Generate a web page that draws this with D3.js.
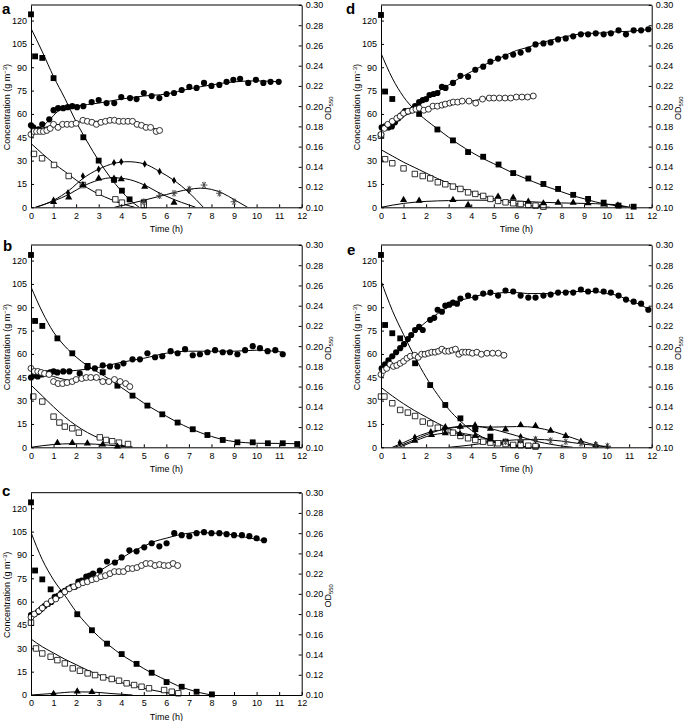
<!DOCTYPE html>
<html><head><meta charset="utf-8">
<script src="https://cdn.jsdelivr.net/npm/d3@7"></script>
<style>body{margin:0;background:#fff}text{font-family:"Liberation Sans",Arial,sans-serif}</style>
</head><body><svg id="chart" width="685" height="721"></svg>
<script>
// ---------- tick labels ----------
const timeTicks = [0,1,2,3,4,5,6,7,8,9,10,11,12];
const concTicks = [0,15,30,45,60,75,90,105,120];
const odTicks = [0.10,0.12,0.14,0.16,0.18,0.20,0.22,0.24,0.26,0.28,0.30];
const panelLetters = ["a","b","c","d","e"];

// ---------- panel a ----------
const a_sqF = [[0,124],[0.18,97],[0.5,96],[1.0,83],[2.32,45],[3.0,30],[3.68,17.6],[4.03,10.7],[4.37,5.1],[5.0,3.2]];
const a_sqFFit = [[0,115],[0.5,100],[1,84],[1.5,70],[2,55],[2.5,42],[3,30],[3.5,19.5],[4,10.5],[4.4,4.5],[4.8,0]];
const a_sqO = [[0.13,34.3],[0.49,31.5],[1.02,27.2],[1.67,20.1],[2.3,14.3],[3.0,9.4],[3.74,5.1],[4.03,3],[5.0,1.5]];
const a_sqOFit = [[0,41],[0.5,34.5],[1,28.3],[1.5,23],[2,17.5],[2.5,12.5],[3,8.5],[3.5,5.3],[4,2.5],[4.6,0]];
const a_tri = [[1.0,3.5],[1.67,6.4],[2.3,14.3],[3.0,18.6],[3.68,18.5],[4.0,18],[5.04,13.3],[6.34,3]];
const a_triFit = [[0.2,0],[1,4],[1.7,8.5],[2.3,13.5],[3,17.5],[3.6,19],[4.2,18.3],[5,14.5],[5.72,9],[6.34,5],[7,1.5],[7.3,0]];
const a_dia = [[1.0,4.5],[1.64,9.4],[2.3,20.1],[3.0,24.4],[3.68,28.7],[4.0,29.3],[5.04,27.8],[5.7,23],[6.34,17.3],[7.0,11]];
const a_diaFit = [[0.2,0],[1,4.5],[1.7,11],[2.3,18.5],[3,24.5],[3.7,28.3],[4.3,29.3],[5,28],[5.7,23],[6.34,17.3],[7,9.5],[7.64,0]];
const a_star = [[5.0,3.6],[5.7,7.5],[6.34,9.0],[7.02,11.6],[7.67,14.3],[8.35,9.0],[9.0,3.6]];
const a_starFit = [[3.7,0],[5,4.5],[6,8.2],[7,11.5],[7.5,12.3],[8,11.5],[8.5,9],[9,5],[9.6,0]];
const a_odF = [[0,0.181],[0.1,0.179],[0.33,0.177],[0.5,0.182],[0.81,0.187],[1.0,0.196],[1.2,0.198],[1.43,0.198],[1.63,0.199],[1.83,0.200],[2.04,0.199],[2.32,0.200],[2.69,0.204],[3.0,0.206],[3.35,0.203],[3.69,0.203],[4.0,0.209],[4.39,0.208],[4.68,0.207],[5.0,0.213],[5.35,0.210],[5.69,0.208],[6.01,0.212],[6.34,0.213],[6.68,0.216],[7.02,0.219],[7.34,0.218],[7.67,0.223],[8.0,0.220],[8.35,0.221],[8.67,0.224],[8.97,0.226],[9.27,0.227],[9.63,0.223],[9.97,0.226],[10.3,0.223],[10.62,0.224],[10.98,0.224]];
const a_odFFit = [[0,0.180],[0.3,0.178],[0.8,0.186],[1.2,0.195],[1.6,0.198],[2,0.200],[3,0.203],[4,0.207],[5,0.210],[6,0.212],[7,0.217],[8,0.221],[9,0.224],[10,0.225],[11,0.224]];
const a_odO = [[0,0.172],[0.12,0.175],[0.25,0.175],[0.4,0.175],[0.55,0.175],[0.7,0.176],[0.85,0.178],[1.0,0.182],[1.2,0.179],[1.4,0.182],[1.6,0.182],[1.8,0.182],[2.0,0.183],[2.3,0.186],[2.5,0.185],[2.7,0.184],[2.9,0.182],[3.1,0.184],[3.3,0.185],[3.5,0.186],[3.7,0.186],[3.9,0.185],[4.1,0.185],[4.3,0.185],[4.5,0.185],[4.7,0.182],[4.9,0.181],[5.1,0.179],[5.3,0.179],[5.55,0.175],[5.7,0.176]];
const a_odOFit = [[0,0.175],[1,0.181],[2,0.184],[2.5,0.185],[3.5,0.185],[4.5,0.184],[5.3,0.179],[5.7,0.176]];

// ---------- panel b ----------
const b_sqF = [[0,123.6],[0.18,81.2],[0.5,78],[1.17,70],[1.83,60.4],[2.51,52.3],[3.18,48.2],[3.83,39.6],[4.5,33.2],[5.16,26.8],[5.82,21.2],[6.5,15.9],[7.17,11.6],[7.82,7.9],[8.5,4.7],[9.15,3.2],[9.83,3.2],[10.5,2.6],[11.16,2.6],[11.8,2.1]];
const b_sqFFit = [[0,103],[0.5,87],[1,74],[1.5,65],[2,58],[2.5,52.5],[3,48],[3.5,43.5],[4,38.5],[4.5,33.5],[5,28.5],[5.5,24],[6,20],[6.5,16],[7,12.5],[7.5,9.5],[8,7],[8.5,5],[9,3.7],[9.5,3],[10,2.6],[11,2.5],[11.8,2.3]];
const b_sqO = [[0.1,32.6],[0.5,29.4],[1.0,19.7],[1.26,15.9],[1.5,13.3],[1.83,12.2],[2.12,9.4],[3.05,6.4],[3.33,4.7],[3.6,3.9],[3.9,3.0],[4.3,2.1]];
const b_sqOFit = [[0,40],[0.5,33],[1,26],[1.5,19.5],[2,14],[2.5,9.5],[3,6],[3.5,3.3],[4,1.3],[4.5,0.2]];
const b_tri = [[1.17,2.8],[1.83,2.8],[2.5,2.5],[3.18,1.8],[3.83,0.5]];
const b_triFit = [[0,0],[1,1.8],[1.8,2.3],[2.5,2.2],[3.2,1.7],[3.9,0.8],[4.5,0]];
const b_odF = [[0,0.169],[0.15,0.171],[0.3,0.170],[0.5,0.172],[0.7,0.173],[0.85,0.174],[1.0,0.175],[1.17,0.174],[1.43,0.175],[1.7,0.175],[2.16,0.173],[2.5,0.179],[2.83,0.178],[3.18,0.181],[3.5,0.180],[3.83,0.180],[4.1,0.183],[4.5,0.187],[4.83,0.187],[5.16,0.193],[5.5,0.189],[5.82,0.190],[6.19,0.195],[6.5,0.193],[6.83,0.197],[7.17,0.191],[7.49,0.192],[7.82,0.194],[8.16,0.196],[8.5,0.194],[8.82,0.194],[9.15,0.192],[9.49,0.196],[9.83,0.200],[10.15,0.198],[10.49,0.195],[10.83,0.196],[11.16,0.192]];
const b_odFFit = [[0,0.170],[1,0.174],[2,0.176],[3,0.179],[4,0.184],[5,0.188],[6,0.193],[7,0.195],[8,0.195],[9,0.195],[10,0.196],[11.2,0.194]];
const b_odO = [[0,0.178],[0.15,0.175],[0.3,0.175],[0.45,0.174],[0.6,0.173],[0.8,0.172],[1.0,0.165],[1.2,0.163],[1.4,0.163],[1.6,0.164],[1.83,0.165],[2.0,0.167],[2.25,0.168],[2.45,0.169],[2.65,0.169],[2.9,0.169],[3.18,0.165],[3.45,0.165],[3.7,0.167],[3.95,0.165],[4.2,0.163],[4.38,0.160]];
const b_odOFit = [[0,0.177],[0.5,0.174],[1,0.170],[1.5,0.167],[2,0.166],[2.5,0.167],[3,0.167],[3.5,0.166],[4,0.164],[4.4,0.161]];

// ---------- panel c ----------
const c_sqF = [[0,123.8],[0.18,80],[0.5,74.3],[0.87,67.9],[2.05,51.9],[2.7,41.6],[3.37,33],[4.02,26.3],[4.68,20],[5.35,14.3],[6.01,8.3],[6.68,5.3],[7.34,2.1],[8.02,0.4]];
const c_sqFFit = [[0,104.5],[0.5,87],[1,74],[1.5,64],[2,53.5],[2.5,45],[3,37.5],[3.5,31.5],[4,26],[4.5,21.5],[5,17],[5.5,13],[6,9.5],[6.5,6],[7,3.5],[7.5,1.5],[8,0]];
const c_sqO = [[0,46.5],[0.22,29.9],[0.5,26.7],[0.87,24.6],[1.17,22.4],[1.5,20.3],[1.85,17.1],[2.17,15.6],[2.51,13.9],[2.84,12.8],[3.2,11.3],[3.58,10.3],[3.9,9.2],[4.24,7.5],[4.57,6.4],[4.9,5.3],[5.23,4.3],[5.9,3.2],[6.24,2.1],[6.53,1.1]];
const c_sqOFit = [[0,36],[0.5,31],[1,27],[1.5,23],[2,19.5],[2.5,16],[3,13],[3.5,10.5],[4,8],[4.5,6],[5,4.3],[5.5,2.8],[6,1.5],[6.6,0]];
const c_tri = [[1.0,0.8],[2.05,2.3],[2.7,1.9]];
const c_triFit = [[0,0],[1,1],[2,2],[2.7,1.9],[3.5,1],[4.5,0]];
const c_odF = [[0,0.179],[0.15,0.180],[0.3,0.182],[0.45,0.185],[0.6,0.188],[0.75,0.190],[0.9,0.192],[1.05,0.197],[1.2,0.198],[1.35,0.201],[1.5,0.203],[1.65,0.205],[1.8,0.207],[1.95,0.207],[2.1,0.212],[2.25,0.213],[2.45,0.217],[2.6,0.218],[2.75,0.220],[3.05,0.223],[3.37,0.232],[3.72,0.231],[4.02,0.236],[4.36,0.243],[4.68,0.242],[5.02,0.246],[5.35,0.250],[5.69,0.247],[6.01,0.250],[6.35,0.260],[6.68,0.258],[7.02,0.257],[7.34,0.260],[7.67,0.261],[8.0,0.260],[8.35,0.260],[8.67,0.259],[9.0,0.258],[9.35,0.258],[9.68,0.257],[10.0,0.255],[10.33,0.253]];
const c_odFFit = [[0,0.178],[0.5,0.185],[1,0.193],[1.5,0.201],[2,0.208],[2.5,0.215],[3,0.222],[3.5,0.229],[4,0.235],[4.5,0.242],[5,0.247],[5.5,0.252],[6,0.255],[6.5,0.258],[7,0.260],[7.5,0.261],[8,0.260],[8.5,0.260],[9,0.258],[9.5,0.256],[10,0.254],[10.35,0.252]];
const c_odO = [[0,0.177],[0.15,0.180],[0.35,0.183],[0.5,0.186],[0.7,0.190],[0.9,0.193],[1.1,0.195],[1.3,0.199],[1.5,0.202],[1.7,0.205],[1.9,0.207],[2.1,0.209],[2.3,0.211],[2.5,0.212],[2.7,0.214],[2.9,0.215],[3.1,0.217],[3.3,0.218],[3.5,0.220],[3.7,0.222],[3.9,0.222],[4.1,0.222],[4.3,0.225],[4.5,0.225],[4.7,0.226],[4.9,0.228],[5.1,0.230],[5.3,0.230],[5.5,0.228],[5.7,0.229],[5.9,0.228],[6.1,0.228],[6.3,0.230],[6.5,0.228]];
const c_odOFit = [[0,0.178],[1,0.194],[2,0.208],[3,0.217],[4,0.223],[5,0.228],[6,0.229],[6.5,0.229]];

// ---------- panel d ----------
const d_sqF = [[0,123.6],[0.18,74.4],[0.5,69.6],[1.69,60],[2.5,50],[3.19,43],[3.86,35.5],[4.53,32.5],[5.21,27.5],[5.86,22],[6.53,18.5],[7.2,15],[7.85,11.8],[8.52,8],[9.18,5.4],[9.87,3],[10.53,1.1],[11.2,0.4]];
const d_sqFFit = [[0,99],[0.5,83],[1,71],[1.5,62.5],[2,56],[2.5,50.5],[3,45],[3.5,40],[4,35.5],[4.5,31.5],[5,28],[5.5,24.5],[6,21],[6.5,18],[7,15],[7.5,12.5],[8,10],[8.5,7.5],[9,5.5],[9.5,3.5],[10,2],[10.5,0.8],[11,0]];
const d_sqO = [[0,46],[0.18,30.9],[0.5,28.3],[1.0,25],[1.5,21.4],[1.85,20.1],[2.18,18.6],[2.52,16.1],[2.85,14.8],[3.19,13.3],[3.52,11.8],[3.86,9.6],[4.18,8.6],[4.53,7.3],[4.85,5.4],[5.19,4.1],[5.52,3.2],[5.86,2.6],[6.19,2.1],[6.53,1.5],[6.85,1.1],[7.2,0.4]];
const d_sqOFit = [[0,37],[0.5,33],[1,29],[1.5,25.5],[2,22],[2.5,18.5],[3,15.5],[3.5,12.5],[4,10],[4.5,7.5],[5,5.5],[5.5,3.8],[6,2.3],[6.5,1.2],[7,0.4],[7.5,0]];
const d_tri = [[1.0,4.7],[1.69,4.3],[3.19,4.7],[3.86,1.5],[5.19,6.9],[5.86,6.2],[6.53,3.6],[7.2,2.6],[7.85,3],[8.52,3],[9.18,2.6],[9.87,1.8],[10.5,1.2]];
const d_triFit = [[0,0],[1,2.5],[2,3.8],[3,4.3],[4,4.6],[5,4.5],[6,4],[7,3.3],[8,2.8],[9,2.5],[10,2],[10.5,1.5],[11,0]];
const d_odF = [[0.03,0.179],[0.18,0.180],[0.33,0.179],[0.48,0.180],[0.62,0.184],[0.77,0.188],[0.9,0.191],[1.07,0.195],[1.22,0.195],[1.37,0.196],[1.51,0.200],[1.69,0.204],[1.85,0.206],[2.0,0.207],[2.15,0.211],[2.33,0.212],[2.5,0.213],[2.7,0.219],[2.86,0.218],[3.19,0.223],[3.52,0.230],[3.86,0.229],[4.18,0.236],[4.53,0.239],[4.85,0.244],[5.19,0.247],[5.52,0.249],[5.86,0.251],[6.19,0.253],[6.53,0.256],[6.85,0.261],[7.2,0.262],[7.52,0.263],[7.85,0.266],[8.19,0.267],[8.52,0.269],[8.86,0.271],[9.18,0.271],[9.52,0.272],[9.87,0.271],[10.19,0.272],[10.53,0.275],[10.86,0.271],[11.2,0.275],[11.53,0.275],[11.85,0.276]];
const d_odFFit = [[0,0.178],[0.5,0.183],[1,0.192],[1.5,0.200],[2,0.208],[2.5,0.214],[3,0.221],[3.5,0.228],[4,0.234],[4.5,0.240],[5,0.245],[5.5,0.250],[6,0.255],[6.5,0.258],[7,0.262],[7.5,0.265],[8,0.268],[8.5,0.270],[9,0.272],[9.5,0.272],[10,0.273],[11,0.274],[12,0.276]];
const d_odO = [[0,0.172],[0.15,0.178],[0.3,0.182],[0.5,0.185],[0.7,0.188],[0.85,0.190],[1.0,0.193],[1.2,0.195],[1.4,0.196],[1.55,0.197],[1.7,0.198],[1.9,0.196],[2.1,0.197],[2.3,0.200],[2.5,0.200],[2.7,0.201],[2.85,0.202],[3.05,0.203],[3.2,0.204],[3.4,0.204],[3.6,0.205],[3.9,0.205],[4.2,0.203],[4.5,0.207],[4.8,0.208],[5.0,0.208],[5.25,0.208],[5.5,0.208],[5.75,0.208],[6.0,0.209],[6.25,0.209],[6.5,0.209],[6.75,0.210]];
const d_odOFit = [[0,0.175],[0.5,0.184],[1,0.190],[1.5,0.195],[2,0.198],[2.5,0.200],[3,0.202],[3.5,0.204],[4,0.205],[4.5,0.207],[5,0.208],[5.5,0.208],[6,0.209],[6.75,0.210]];

// ---------- panel e ----------
const e_sqF = [[0,123.6],[0.18,78.6],[0.5,73.3],[0.85,70],[1.51,54],[2.18,40],[2.85,27.2],[3.52,18.6],[4.18,11.6],[4.85,6.9],[5.52,3.6],[6.19,2.6],[6.85,0.4]];
const e_sqFFit = [[0,107],[0.5,88],[1,72.5],[1.5,58],[2,45],[2.5,34],[3,24.5],[3.5,17],[4,11],[4.5,6.5],[5,3.5],[5.5,1.5],[6,0.3],[6.5,0]];
const e_sqO = [[0,32.6],[0.15,32.6],[0.5,28.3],[0.85,24],[1.19,22.3],[1.51,20.1],[1.85,16.5],[2.18,15.4],[2.52,12.6],[2.85,11],[3.19,9.4],[3.52,7.3],[3.86,5.8],[4.18,4.7],[4.53,3.6],[4.85,3],[5.19,2.6],[5.52,2.1],[5.86,1.5],[6.19,1.3],[6.53,1],[6.85,0.8]];
const e_sqOFit = [[0,38.5],[0.5,33],[1,28],[1.5,23.5],[2,19.5],[2.5,15.5],[3,12],[3.5,9],[4,6.5],[4.5,4.5],[5,3],[5.5,1.8],[6,1],[6.8,0]];
const e_tri = [[2.85,12.9],[3.52,13.3],[4.18,13.2],[4.85,12],[5.52,11.5],[6.19,14.3],[6.85,13.7],[7.52,10.7],[8.19,7.3],[8.86,3.6],[9.52,1.5]];
const e_triFit = [[0.6,0],[1,2],[1.5,5],[2,8],[2.5,10.5],[3,12.2],[3.5,13],[4,13.3],[5,13],[6,13.3],[6.5,13.2],[7,12.3],[7.5,10.7],[8,8.5],[8.5,6],[9,3.5],[9.5,1.5],[10,0.3],[10.2,0]];
const e_dia = [[0.83,3],[1.5,6.4],[2.21,10],[2.83,11.6],[3.5,13.3],[4.17,14.3],[6.19,6.8],[6.85,4.5]];
const e_diaFit = [[0.5,0],[1,3],[1.5,6.3],[2,9],[2.5,11],[3,12.5],[3.5,13.5],[4,14],[4.5,13],[5,11.5],[5.5,9.5],[6,7.5],[6.5,5.5],[7,3.5],[7.5,2],[8,0.8],[8.5,0]];
const e_tri2 = [[1.5,4.2],[2.24,7.9],[2.85,9],[3.5,8.6],[4.18,7.5],[4.85,5]];
const e_tri2Fit = [[0.8,0],[1.5,4],[2,6.8],[2.5,8.5],[3,9.2],[3.5,9],[4,8],[4.5,6.3],[5,4.3],[5.5,2.5],[6,1],[6.5,0]];
const e_star = [[5.52,3.6],[6.19,4.5],[6.85,5.2],[7.52,4.3],[8.19,3.6],[8.86,2.5],[9.52,1.5],[10.04,0.8]];
const e_starFit = [[3,0],[4,1.5],[5,3.5],[6,4.8],[7,5],[7.5,4.7],[8,4],[8.5,3],[9,2],[9.5,1.2],[10.2,0]];
const e_odF = [[0.03,0.178],[0.18,0.182],[0.33,0.186],[0.5,0.190],[0.67,0.194],[0.85,0.198],[1.02,0.202],[1.19,0.207],[1.34,0.211],[1.51,0.216],[1.69,0.219],[1.85,0.216],[2.18,0.226],[2.36,0.228],[2.51,0.236],[2.7,0.234],[2.85,0.240],[3.03,0.241],[3.19,0.243],[3.37,0.242],[3.52,0.247],[3.86,0.250],[4.18,0.248],[4.53,0.252],[4.85,0.253],[5.19,0.250],[5.52,0.255],[5.86,0.254],[6.19,0.250],[6.53,0.248],[6.85,0.248],[7.2,0.250],[7.52,0.251],[7.85,0.253],[8.19,0.253],[8.52,0.253],[8.86,0.256],[9.18,0.254],[9.52,0.255],[9.87,0.254],[10.19,0.253],[10.53,0.250],[10.86,0.246],[11.2,0.244],[11.53,0.242],[11.85,0.236]];
const e_odFFit = [[0,0.177],[0.5,0.189],[1,0.202],[1.5,0.214],[2,0.224],[2.5,0.232],[3,0.239],[3.5,0.245],[4,0.248],[4.5,0.251],[5,0.252],[5.5,0.253],[6,0.253],[6.5,0.252],[7,0.252],[7.5,0.252],[8,0.253],[8.5,0.254],[9,0.254],[9.5,0.254],[10,0.252],[10.5,0.250],[11,0.245],[11.5,0.241],[11.9,0.236]];
const e_odO = [[0,0.172],[0.1,0.176],[0.25,0.178],[0.4,0.182],[0.55,0.180],[0.7,0.181],[0.85,0.183],[1.0,0.185],[1.15,0.188],[1.3,0.190],[1.5,0.191],[1.65,0.189],[1.8,0.192],[1.95,0.192],[2.1,0.193],[2.25,0.194],[2.4,0.194],[2.55,0.195],[2.7,0.197],[2.85,0.195],[3.0,0.195],[3.15,0.196],[3.3,0.197],[3.45,0.192],[3.6,0.194],[3.75,0.194],[3.9,0.194],[4.05,0.193],[4.25,0.194],[4.45,0.192],[4.7,0.193],[4.95,0.193],[5.2,0.193],[5.45,0.191]];
const e_odOFit = [[0,0.174],[0.5,0.180],[1,0.185],[1.5,0.189],[2,0.192],[2.5,0.194],[3,0.195],[3.5,0.195],[4,0.194],[4.5,0.193],[5,0.193],[5.45,0.191]];

// ---------- layout ----------
const W = 270.7, H = 202.3;
const panels = [
  {letter: panelLetters[0], left: 31,  top: 5,     lx: 2,   ly: 13.5,
   conc: [["sqF",a_sqF,a_sqFFit],["sqO",a_sqO,a_sqOFit],["tri",a_tri,a_triFit],["dia",a_dia,a_diaFit],["star",a_star,a_starFit]],
   od: [["odF",a_odF,a_odFFit],["odO",a_odO,a_odOFit]]},
  {letter: panelLetters[1], left: 31,  top: 245,   lx: 3,   ly: 251,
   conc: [["sqF",b_sqF,b_sqFFit],["sqO",b_sqO,b_sqOFit],["tri",b_tri,b_triFit]],
   od: [["odF",b_odF,b_odFFit],["odO",b_odO,b_odOFit]]},
  {letter: panelLetters[2], left: 31,  top: 492.7, lx: 2,   ly: 496,
   conc: [["sqF",c_sqF,c_sqFFit],["sqO",c_sqO,c_sqOFit],["tri",c_tri,c_triFit]],
   od: [["odF",c_odF,c_odFFit],["odO",c_odO,c_odOFit]]},
  {letter: panelLetters[3], left: 381, top: 5,     lx: 346, ly: 13.5,
   conc: [["sqF",d_sqF,d_sqFFit],["sqO",d_sqO,d_sqOFit],["tri",d_tri,d_triFit]],
   od: [["odF",d_odF,d_odFFit],["odO",d_odO,d_odOFit]]},
  {letter: panelLetters[4], left: 381, top: 245,   lx: 347, ly: 255,
   conc: [["sqF",e_sqF,e_sqFFit],["sqO",e_sqO,e_sqOFit],["tri",e_tri,e_triFit],["dia",e_dia,e_diaFit],["tri",e_tri2,e_tri2Fit],["star",e_star,e_starFit]],
   od: [["odF",e_odF,e_odFFit],["odO",e_odO,e_odOFit]]}
];

const svg = d3.select("#chart");
const FONT = "Liberation Sans, Arial, sans-serif";

function drawMarker(g, kind, px, py){
  if (kind === "star"){
    const r = 3.4, s = g.append("g").attr("stroke","#444").attr("stroke-width",0.9);
    [0,60,120].forEach(a=>{
      const rad = a*Math.PI/180;
      s.append("line").attr("x1",px-r*Math.cos(rad)).attr("y1",py-r*Math.sin(rad))
        .attr("x2",px+r*Math.cos(rad)).attr("y2",py+r*Math.sin(rad));
    });
    s.append("line").attr("x1",px).attr("y1",py-r).attr("x2",px).attr("y2",py+r);
    return;
  }
  const spec = {
    sqF: [d3.symbolSquare, 34, "#000", "none"],
    sqO: [d3.symbolSquare, 30, "#fff", "#000"],
    tri: [d3.symbolTriangle, 22, "#000", "none"],
    dia: [d3.symbolDiamond, 16, "#000", "none"],
    odF: [d3.symbolCircle, 30, "#000", "none"],
    odO: [d3.symbolCircle, 28, "#fff", "#000"]
  }[kind];
  g.append("path").attr("d", d3.symbol().type(spec[0]).size(spec[1])())
    .attr("transform", `translate(${px},${py})`)
    .attr("fill", spec[2]).attr("stroke", spec[3]).attr("stroke-width", 0.8);
}

panels.forEach((p,i)=>{
  const g = svg.append("g");
  const x = d3.scaleLinear().domain([0,12]).range([p.left, p.left+W]);
  const y = d3.scaleLinear().domain([0,130]).range([p.top+H, p.top]);
  const yr = d3.scaleLinear().domain([0.10,0.30]).range([p.top+H, p.top]);

  const clipId = "clip"+i;
  svg.append("clipPath").attr("id",clipId).append("rect")
    .attr("x",p.left).attr("y",p.top-1).attr("width",W).attr("height",H+1);

  // fit lines
  const lc = d3.line().x(d=>x(d[0])).y(d=>y(d[1])).curve(d3.curveMonotoneX);
  const lo = d3.line().x(d=>x(d[0])).y(d=>yr(d[1])).curve(d3.curveMonotoneX);
  const lines = g.append("g").attr("clip-path",`url(#${clipId})`);
  p.conc.forEach(s=>lines.append("path").attr("d",lc(s[2])).attr("fill","none").attr("stroke","#000").attr("stroke-width",1));
  p.od.forEach(s=>lines.append("path").attr("d",lo(s[2])).attr("fill","none").attr("stroke","#000").attr("stroke-width",1));

  // markers
  const mk = g.append("g");
  p.conc.forEach(s=>s[1].forEach(d=>drawMarker(mk, s[0], x(d[0]), y(d[1]))));
  p.od.forEach(s=>s[1].forEach(d=>drawMarker(mk, s[0], x(d[0]), yr(d[1]))));

  // axes (ticks inward)
  const axL = g.append("g").attr("transform",`translate(${p.left},0)`)
    .call(d3.axisLeft(y).tickValues(concTicks).tickSizeInner(-3).tickSizeOuter(0).tickPadding(4));
  const axR = g.append("g").attr("transform",`translate(${p.left+W},0)`)
    .call(d3.axisRight(yr).tickValues(odTicks).tickSizeInner(-3).tickSizeOuter(0).tickPadding(4).tickFormat(d3.format(".2f")));
  const axB = g.append("g").attr("transform",`translate(0,${p.top+H})`)
    .call(d3.axisBottom(x).tickValues(timeTicks).tickSizeInner(-3).tickSizeOuter(0).tickPadding(5));
  [axL,axR,axB].forEach(a=>{
    a.attr("font-size",9).attr("font-family",FONT);
    a.selectAll("text").attr("fill","#000");
    a.selectAll("line,path").attr("stroke","#000").attr("stroke-width",1);
  });
  g.append("line").attr("x1",p.left).attr("x2",p.left+W).attr("y1",p.top).attr("y2",p.top)
    .attr("stroke","#000").attr("stroke-width",1);

  // labels
  g.append("text").attr("x",p.left+W/2).attr("y",p.top+H+24.5).attr("text-anchor","middle")
    .attr("font-size",9).text("Time (h)");
  const cl = g.append("text").attr("transform",`translate(${p.left-21.5},${p.top+H/2+1}) rotate(-90)`)
    .attr("text-anchor","middle").attr("font-size",9);
  cl.append("tspan").text("Concentration (g m");
  cl.append("tspan").attr("font-size",6).attr("dy",-3).text("−3");
  cl.append("tspan").attr("dy",3).text(")");
  const ol = g.append("text").attr("transform",`translate(${p.left+W+29},${p.top+H/2+2}) rotate(-90)`)
    .attr("text-anchor","middle").attr("font-size",9);
  ol.append("tspan").text("OD");
  ol.append("tspan").attr("font-size",6).attr("dy",2.5).text("550");

  g.append("text").attr("x",p.lx).attr("y",p.ly).attr("font-size",15).attr("font-weight","bold").text(p.letter);
});
</script></body></html>
